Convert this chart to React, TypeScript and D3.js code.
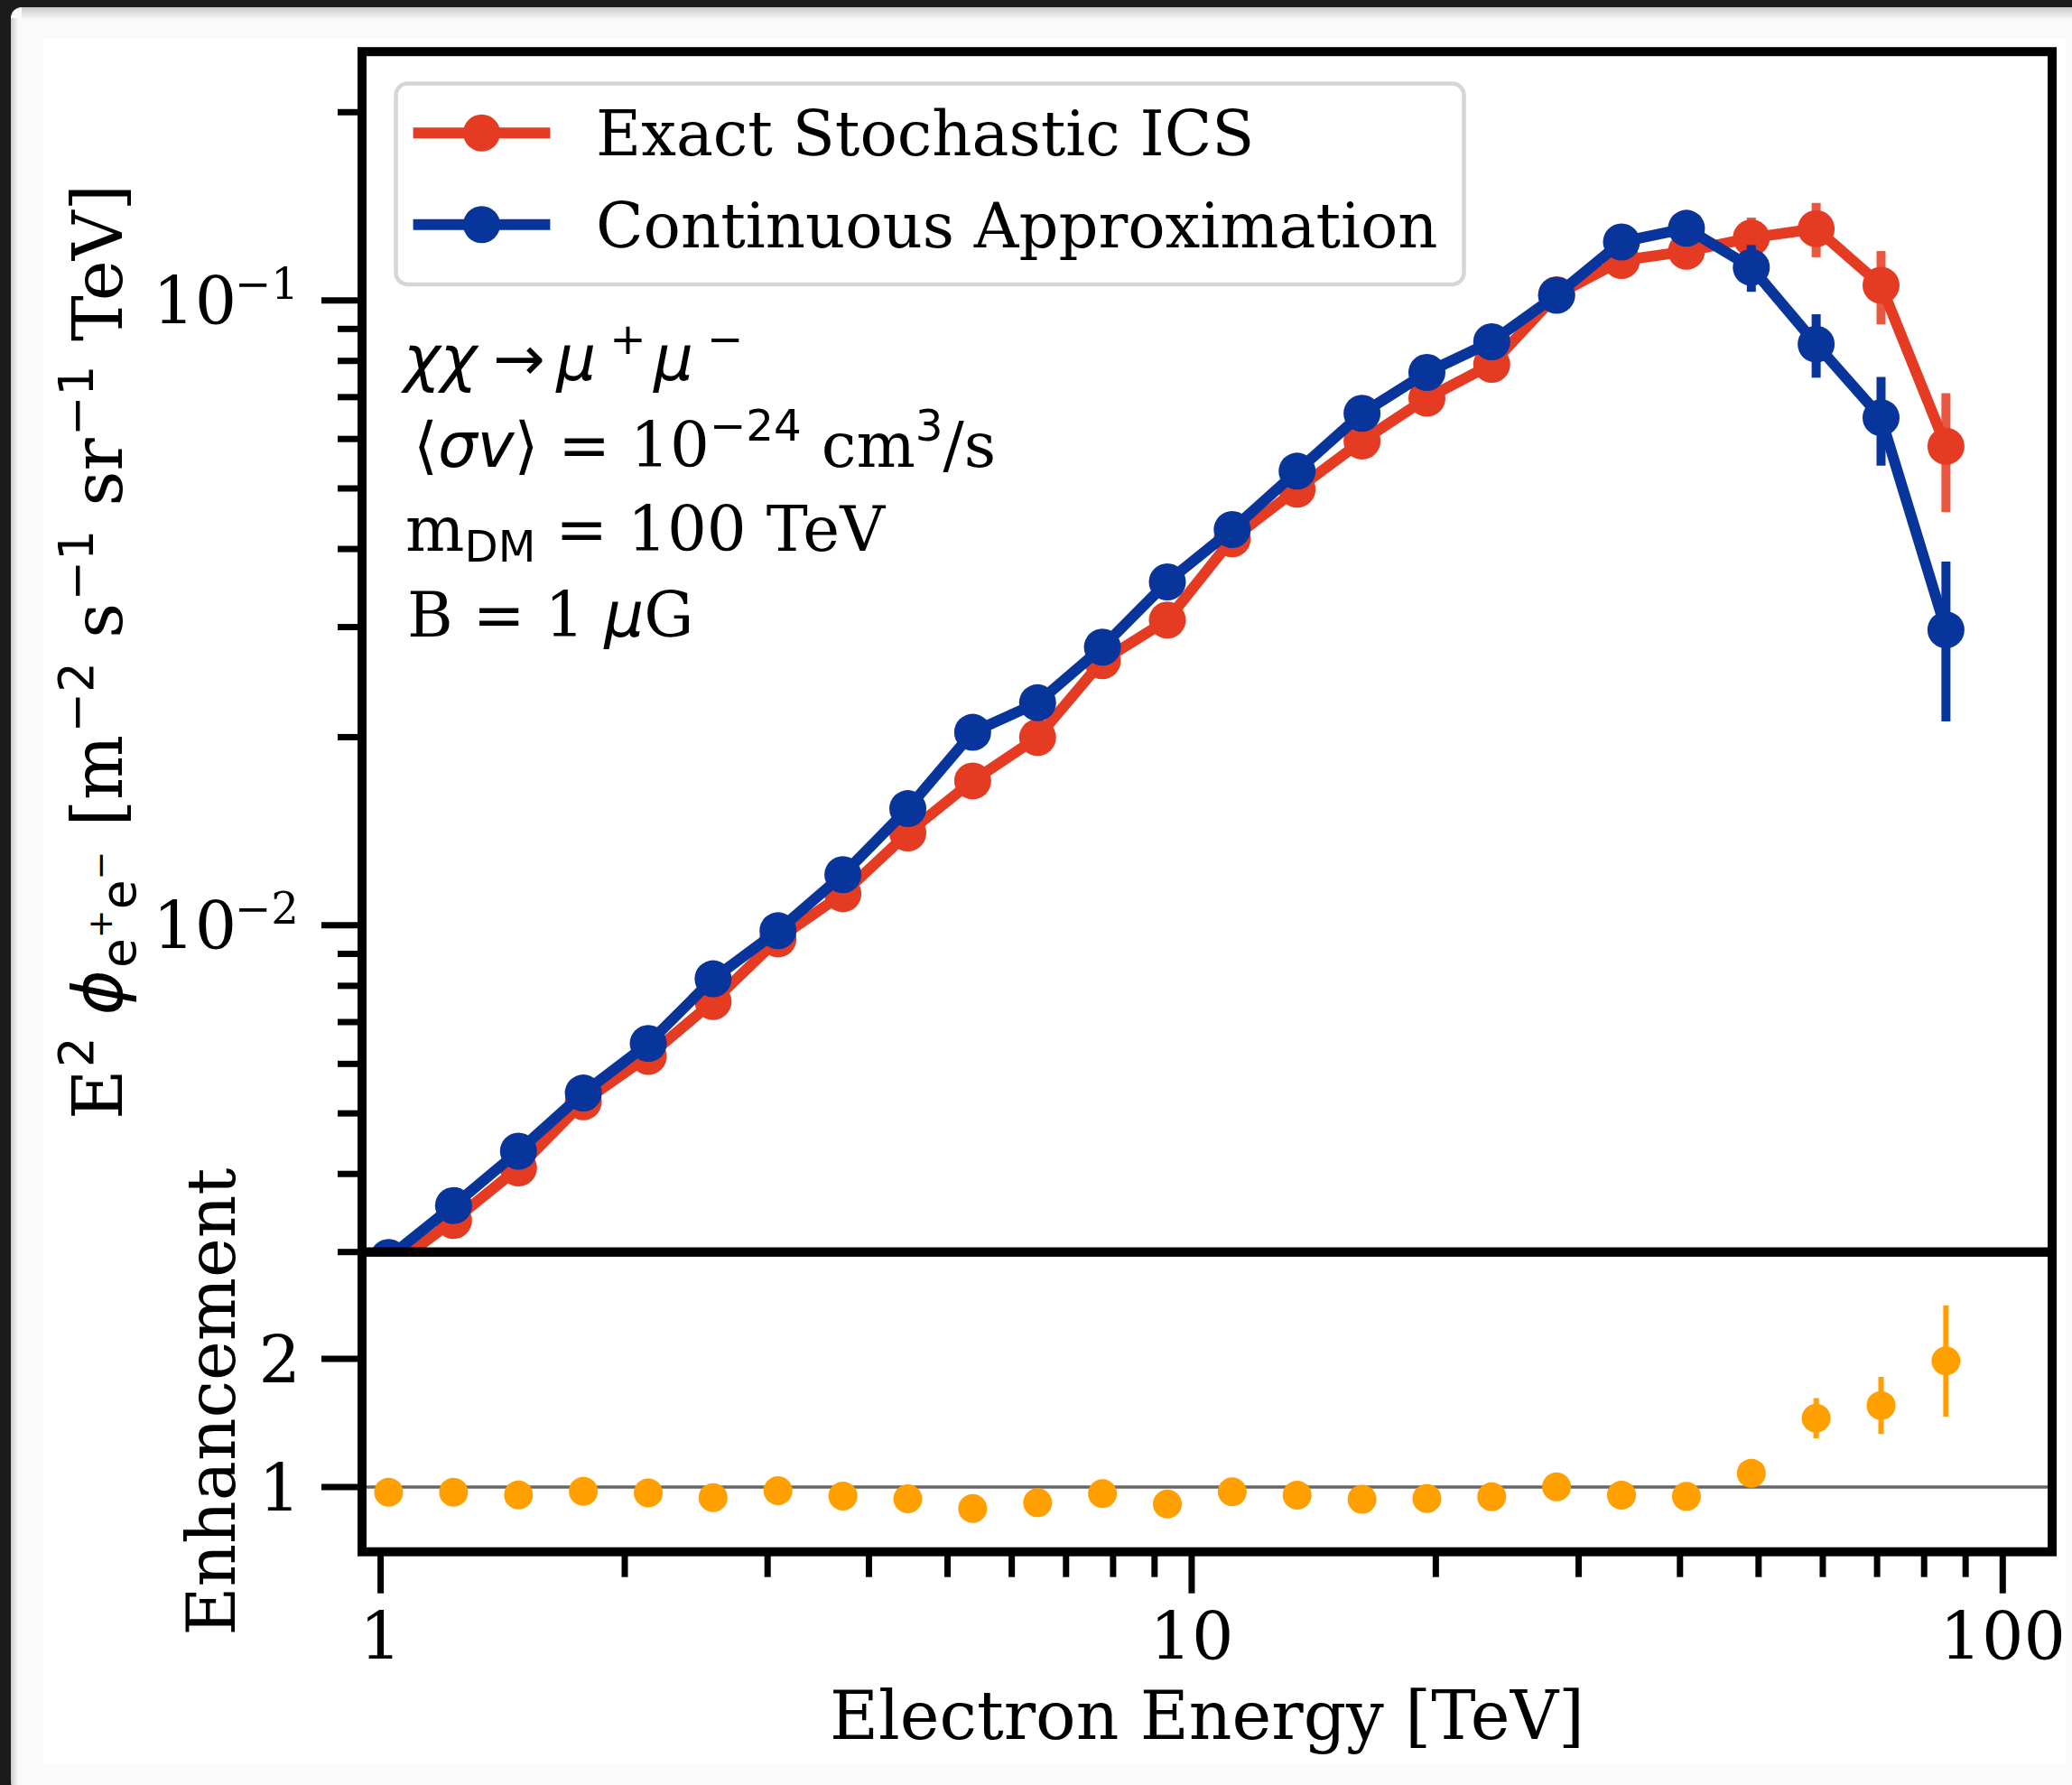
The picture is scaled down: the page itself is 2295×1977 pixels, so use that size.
import React, { useEffect } from "react";
import * as d3 from "d3";

// ---------------- data ----------------
const energies = [1.023, 1.23, 1.479, 1.778, 2.138, 2.57, 3.09, 3.715, 4.467, 5.37, 6.457, 7.762, 9.333, 11.22, 13.49, 16.22, 19.5, 23.44, 28.18, 33.88, 40.74, 48.98, 58.88, 70.79, 85.11];

const exactFlux = [0.00282, 0.00337, 0.00409, 0.00522, 0.00617, 0.00755, 0.00951, 0.01123, 0.01405, 0.01702, 0.01998, 0.02651, 0.03079, 0.04153, 0.04986, 0.05956, 0.06971, 0.07899, 0.1021, 0.1158, 0.1198, 0.1259, 0.1302, 0.1057, 0.0584];
const exactErr = [0.0001, 0.0001, 0.0001, 0.0001, 0.0002, 0.0002, 0.0003, 0.0003, 0.0004, 0.0005, 0.0006, 0.0008, 0.0009, 0.0012, 0.0015, 0.0018, 0.0022, 0.0028, 0.004, 0.005, 0.007, 0.0097, 0.013, 0.0142, 0.0126];

const contFlux = [0.00294, 0.00356, 0.00435, 0.00539, 0.00647, 0.00821, 0.0098, 0.01205, 0.01537, 0.02036, 0.0227, 0.02786, 0.03544, 0.04298, 0.05329, 0.06594, 0.07667, 0.08586, 0.1019, 0.124, 0.1304, 0.1129, 0.0851, 0.0649, 0.0297];
const contErr = [0.0001, 0.0001, 0.0001, 0.0001, 0.0002, 0.0002, 0.0003, 0.0003, 0.0004, 0.0005, 0.0006, 0.0008, 0.0009, 0.0012, 0.0015, 0.0018, 0.0022, 0.0028, 0.003, 0.004, 0.005, 0.0097, 0.0099, 0.0105, 0.0085];

const enhancement = [0.96, 0.96, 0.939, 0.967, 0.955, 0.918, 0.972, 0.93, 0.908, 0.833, 0.878, 0.949, 0.868, 0.963, 0.937, 0.904, 0.911, 0.925, 1.002, 0.937, 0.927, 1.108, 1.537, 1.636, 1.984];
const enhancementErr = [0.01, 0.01, 0.01, 0.01, 0.01, 0.01, 0.01, 0.01, 0.01, 0.01, 0.01, 0.015, 0.015, 0.015, 0.02, 0.02, 0.02, 0.025, 0.03, 0.035, 0.045, 0.08, 0.156, 0.223, 0.434];

const xMajorTicks = [1, 10, 100];
const xMajorLabels = ["1", "10", "100"];
const xMinorTicks = [2, 3, 4, 5, 6, 7, 8, 9, 20, 30, 40, 50, 60, 70, 80, 90];
const yMajorTicks = [0.01, 0.1];
const yMajorExps = ["−2", "−1"];
const yMinorTicks = [0.003, 0.004, 0.005, 0.006, 0.007, 0.008, 0.009, 0.02, 0.03, 0.04, 0.05, 0.06, 0.07, 0.08, 0.09, 0.2];
const ratioTicks = [1, 2];
const ratioLabels = ["1", "2"];

const seriesNames = ["Exact Stochastic ICS", "Continuous Approximation"];

// ---------------- style ----------------
const W = 2295;
const H = 1977;
const L = 401;
const R = 2273;
const T = 57.2;
const M = 1386.7;
const B = 1718.7;

const RED = "#E63B23";
const RED_ERR = "#EA5741";
const BLUE = "#08359C";
const ORANGE = "#FFA000";
const SERIF = "'DejaVu Serif', serif";
const SANS = "'DejaVu Sans', sans-serif";

const TICK_FS = 73;
const LABEL_FS = 74;
const YLABEL_FS = 76;
const LEG_FS = 68.7;
const ANN_FS = 69;

type Seg = { t: string; f?: "serif" | "sans" | "it"; s?: number; r?: number; dx?: number };

function MText(props: { segs: Seg[]; size: number; x?: number; y?: number; anchor?: string; transform?: string }) {
  const { segs, size, x, y, anchor, transform } = props;
  let prev = 0;
  return (
    <text x={x} y={y} fontSize={size} textAnchor={anchor} transform={transform} style={{ whiteSpace: "pre" }} fill="#000">
      {segs.map((sg, i) => {
        const rise = (sg.r ?? 0) * size;
        const dy = -(rise - prev);
        prev = rise;
        const fam = sg.f === "serif" || sg.f === undefined ? SERIF : SANS;
        return (
          <tspan
            key={i}
            dy={dy !== 0 ? dy : undefined}
            dx={sg.dx ? sg.dx * size : undefined}
            fontFamily={fam}
            fontStyle={sg.f === "it" ? "oblique" : "normal"}
            fontSize={(sg.s ?? 1) * size}
          >
            {sg.t}
          </tspan>
        );
      })}
    </text>
  );
}

export default function App() {
  useEffect(() => {
    document.body.style.margin = "0";
  }, []);

  const x = d3.scaleLog().domain([0.9486, 115.06]).range([L, R]);
  const yTop = d3.scaleLog().domain([0.003, 0.25]).range([M, T]);
  const yBot = d3.scaleLinear().domain([0.495, 2.833]).range([B, M]);

  const lineGen = d3
    .line<number>()
    .x((_, i) => x(energies[i]))
    .y((d) => yTop(d));

  const series = [
    { vals: exactFlux, errs: exactErr, color: RED, errColor: RED_ERR },
    { vals: contFlux, errs: contErr, color: BLUE, errColor: BLUE },
  ];

  const majorLen = 45;
  const minorLen = 27;
  const tickW = 7;

  return (
    <svg width={W} height={H} style={{ position: "absolute", left: 0, top: 0, display: "block" }}>
      <defs>
        <clipPath id="clipTop">
          <rect x={L} y={T} width={R - L} height={M - T} />
        </clipPath>
        <clipPath id="clipBot">
          <rect x={L} y={M} width={R - L} height={B - M} />
        </clipPath>
        <linearGradient id="shTop" x1="0" y1="0" x2="0" y2="1">
          <stop offset="0" stopColor="#9a9a9a" />
          <stop offset="1" stopColor="#fafafa" />
        </linearGradient>
        <linearGradient id="shLeft" x1="0" y1="0" x2="1" y2="0">
          <stop offset="0" stopColor="#9a9a9a" />
          <stop offset="1" stopColor="#fafafa" />
        </linearGradient>
      </defs>

      {/* window frame */}
      <rect x={0} y={0} width={W} height={H} fill="#1b1b1b" />
      <rect x={12} y={8} width={W} height={H} rx={12} fill="#fafafa" />
      <rect x={24} y={8} width={W} height={14} fill="url(#shTop)" opacity={0.5} />
      <rect x={12} y={20} width={8} height={H} fill="url(#shLeft)" opacity={0.5} />
      <rect x={48} y={43} width={2240} height={1911} fill="#ffffff" />

      {/* upper panel data */}
      <g clipPath="url(#clipTop)">
        {series.map((s, si) => (
          <g key={si}>
            {s.vals.map((v, i) => (
              <line
                key={"e" + i}
                x1={x(energies[i])}
                x2={x(energies[i])}
                y1={yTop(v + s.errs[i])}
                y2={yTop(Math.max(v - s.errs[i], 1e-5))}
                stroke={s.errColor}
                strokeWidth={10}
              />
            ))}
            <path d={lineGen(s.vals) || ""} fill="none" stroke={s.color} strokeWidth={12} strokeLinejoin="round" />
            {s.vals.map((v, i) => (
              <circle key={"m" + i} cx={x(energies[i])} cy={yTop(v)} r={20.5} fill={s.color} />
            ))}
          </g>
        ))}
      </g>

      {/* lower panel data */}
      <g clipPath="url(#clipBot)">
        <line x1={L} x2={R} y1={yBot(1)} y2={yBot(1)} stroke="#666666" strokeWidth={3.4} />
        {enhancement.map((v, i) => (
          <line
            key={"re" + i}
            x1={x(energies[i])}
            x2={x(energies[i])}
            y1={yBot(v + enhancementErr[i])}
            y2={yBot(v - enhancementErr[i])}
            stroke={ORANGE}
            strokeWidth={6}
          />
        ))}
        {enhancement.map((v, i) => (
          <circle key={"rm" + i} cx={x(energies[i])} cy={yBot(v)} r={16} fill={ORANGE} />
        ))}
      </g>

      {/* ticks: upper y */}
      {yMinorTicks.map((t) => (
        <line key={"ymi" + t} x1={L - minorLen} x2={L} y1={yTop(t)} y2={yTop(t)} stroke="#000" strokeWidth={tickW} />
      ))}
      {yMajorTicks.map((t) => (
        <line key={"yma" + t} x1={L - majorLen} x2={L} y1={yTop(t)} y2={yTop(t)} stroke="#000" strokeWidth={tickW} />
      ))}
      {yMajorTicks.map((t, i) => (
        <MText
          key={"yl" + t}
          x={331}
          y={yTop(t) + 26}
          size={TICK_FS}
          anchor="end"
          segs={[
            { t: "10" },
            { t: yMajorExps[i], s: 0.66, r: 0.38, dx: -0.03 },
          ]}
        />
      ))}

      {/* ticks: lower y */}
      {ratioTicks.map((t, i) => (
        <g key={"rt" + t}>
          <line x1={L - majorLen} x2={L} y1={yBot(t)} y2={yBot(t)} stroke="#000" strokeWidth={tickW} />
          <text x={333} y={yBot(t) + 27} fontFamily={SERIF} fontSize={TICK_FS} textAnchor="end">
            {ratioLabels[i]}
          </text>
        </g>
      ))}

      {/* ticks: x */}
      {xMinorTicks.map((t) => (
        <line key={"xmi" + t} x1={x(t)} x2={x(t)} y1={B} y2={B + minorLen + 1} stroke="#000" strokeWidth={tickW} />
      ))}
      {xMajorTicks.map((t, i) => (
        <g key={"xma" + t}>
          <line x1={x(t)} x2={x(t)} y1={B} y2={B + majorLen + 1} stroke="#000" strokeWidth={tickW} />
          <text x={x(t)} y={1838} fontFamily={SERIF} fontSize={TICK_FS} textAnchor="middle">
            {xMajorLabels[i]}
          </text>
        </g>
      ))}

      {/* spines */}
      <rect x={L} y={T} width={R - L} height={M - T} fill="none" stroke="#000" strokeWidth={10} />
      <rect x={L} y={M} width={R - L} height={B - M} fill="none" stroke="#000" strokeWidth={10} />

      {/* legend */}
      <rect x={438.5} y={92.5} width={1183} height={222.5} rx={13} fill="#ffffff" fillOpacity={0.8} stroke="#d6d6d6" strokeWidth={4.5} />
      {[RED, BLUE].map((c, i) => {
        const cy = 147.2 + i * 101.5;
        return (
          <g key={"lg" + i}>
            <line x1={457.6} x2={609.4} y1={cy} y2={cy} stroke={c} strokeWidth={12} />
            <circle cx={533.5} cy={cy} r={20.5} fill={c} />
            <text x={660} y={cy + 25} fontFamily={SERIF} fontSize={LEG_FS}>
              {seriesNames[i]}
            </text>
          </g>
        );
      })}

      {/* annotation */}
      <MText
        x={447}
        y={421}
        size={ANN_FS}
        segs={[
          { t: "χχ", f: "it" },
          { t: "→", f: "sans", dx: 0.25 },
          { t: "μ", f: "it", dx: 0.18 },
          { t: "+", f: "sans", s: 0.7, r: 0.42, dx: 0.22 },
          { t: "μ", f: "it", dx: 0.12 },
          { t: "−", f: "sans", s: 0.7, r: 0.42, dx: 0.22 },
        ]}
      />
      <MText
        x={458}
        y={516.7}
        size={ANN_FS}
        segs={[
          { t: "⟨", f: "sans" },
          { t: "σv", f: "it" },
          { t: "⟩", f: "sans" },
          { t: " = 10" },
          { t: "−24", f: "sans", s: 0.7, r: 0.42 },
          { t: " cm", r: 0 },
          { t: "3", f: "sans", s: 0.7, r: 0.42 },
          { t: "/s", r: 0 },
        ]}
      />
      <MText
        x={449}
        y={610}
        size={ANN_FS}
        segs={[
          { t: "m" },
          { t: "DM", f: "sans", s: 0.7, r: -0.18 },
          { t: " = 100 TeV", r: 0 },
        ]}
      />
      <MText
        x={451}
        y={705}
        size={ANN_FS}
        segs={[
          { t: "B = 1 " },
          { t: "μ", f: "it" },
          { t: "G" },
        ]}
      />

      {/* axis labels */}
      <text x={(L + R) / 2} y={1926} fontFamily={SERIF} fontSize={LABEL_FS} textAnchor="middle">
        Electron Energy [TeV]
      </text>
      <text
        transform={`translate(260, ${(M + B) / 2}) rotate(-90)`}
        fontFamily={SERIF}
        fontSize={LABEL_FS}
        textAnchor="middle"
      >
        Enhancement
      </text>
      <MText
        transform={`translate(135, ${(T + M) / 2}) rotate(-90)`}
        size={YLABEL_FS}
        anchor="middle"
        segs={[
          { t: "E" },
          { t: "2", f: "sans", s: 0.7, r: 0.42, dx: 0.03 },
          { t: " ", r: 0 },
          { t: "ϕ", f: "it" },
          { t: "e", f: "sans", s: 0.7, r: -0.2, dx: 0.03 },
          { t: "+", f: "sans", s: 0.5, r: 0.15 },
          { t: "e", f: "sans", s: 0.7, r: -0.2 },
          { t: "−", f: "sans", s: 0.5, r: 0.15 },
          { t: " [m", r: 0, dx: 0.04 },
          { t: "−2", f: "sans", s: 0.7, r: 0.42, dx: 0.03 },
          { t: " s", r: 0, dx: 0.03 },
          { t: "−1", f: "sans", s: 0.7, r: 0.42, dx: 0.03 },
          { t: " sr", r: 0, dx: 0.03 },
          { t: "−1", f: "sans", s: 0.7, r: 0.42, dx: 0.03 },
          { t: " TeV]", r: 0, dx: 0.03 },
        ]}
      />
    </svg>
  );
}
